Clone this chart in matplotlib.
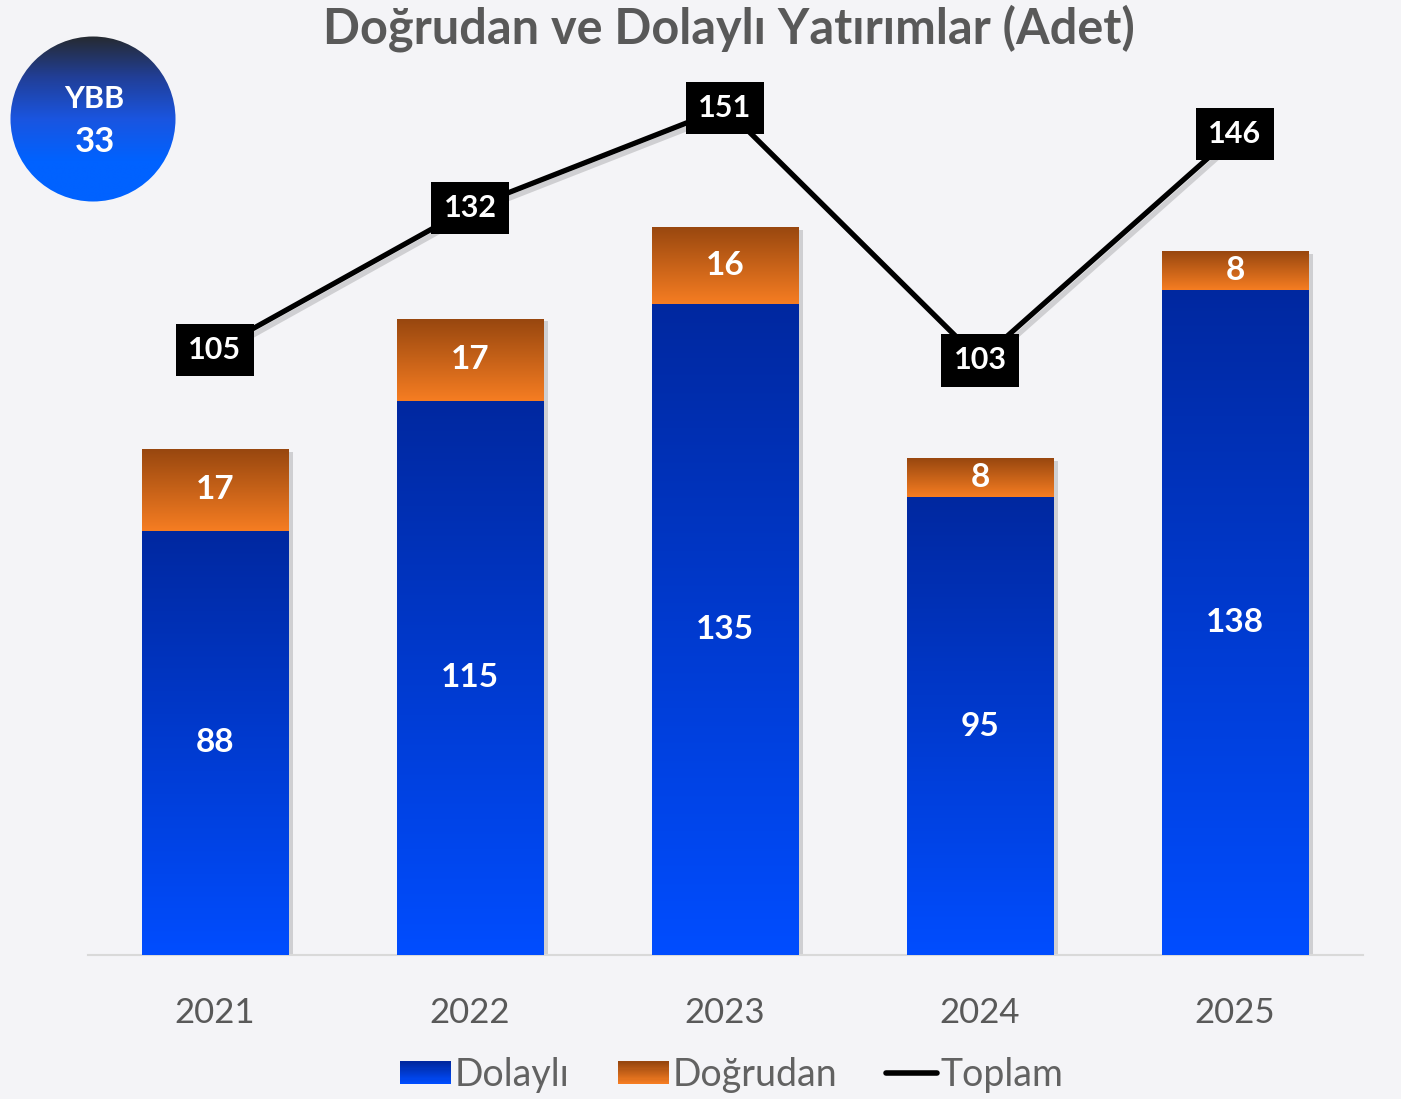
import numpy as np
import matplotlib
matplotlib.use("Agg")
import matplotlib.pyplot as plt
from matplotlib.colors import LinearSegmentedColormap, to_rgb
from matplotlib.patches import Rectangle, Circle
from matplotlib.lines import Line2D
from matplotlib.legend_handler import HandlerBase
import matplotlib.patheffects as pe

years = ["2021", "2022", "2023", "2024", "2025"]
dolayli = [88, 115, 135, 95, 138]
dogrudan = [17, 17, 16, 8, 8]
toplam = [105, 132, 151, 103, 146]
ybb_value = 33

title = "Doğrudan ve Dolaylı Yatırımlar (Adet)"
BG = "#f4f4f7"
GRAY = "#595959"
BLUE_TOP, BLUE_BOT = "#0028a0", "#004dff"
ORG_TOP, ORG_BOT = "#98470f", "#f67d22"
FONT = ["Lato", "DejaVu Sans"]
plt.rcParams["font.family"] = FONT

W, H = 1401, 1099
fig = plt.figure(figsize=(W / 100, H / 100), dpi=100, facecolor=BG)

ax = fig.add_axes([87.5 / W, (H - 955) / H, 1275 / W, 915 / H])
ax.set_facecolor("none")
ax2 = ax.twinx()

x = np.arange(len(years))
bw = 0.576
shadow = [pe.SimplePatchShadow(offset=(3, -2), shadow_rgbFace="#000000", alpha=0.15), pe.Normal()]
b1 = ax.bar(x, dolayli, bw, color="none", zorder=2, path_effects=shadow)
b2 = ax.bar(x, dogrudan, bw, bottom=dolayli, color="none", zorder=2, path_effects=shadow)

grad = np.linspace(0, 1, 256).reshape(-1, 1)
cm_blue = LinearSegmentedColormap.from_list("b", [BLUE_TOP, BLUE_BOT])
cm_org = LinearSegmentedColormap.from_list("o", [ORG_TOP, ORG_BOT])
for bars, cm in ((b1, cm_blue), (b2, cm_org)):
    for r in bars:
        x0, y0, w, h = r.get_x(), r.get_y(), r.get_width(), r.get_height()
        im = ax.imshow(grad, extent=[x0, x0 + w, y0, y0 + h], aspect="auto",
                       cmap=cm, zorder=3, interpolation="bilinear")
        im.set_clip_path(r)

ax.set_xlim(-0.5, len(years) - 0.5)
ax.set_ylim(0, 189.8)
ax.set_aspect("auto")

for i in x:
    ax.text(i, dolayli[i] / 2, str(dolayli[i]), ha="center", va="center",
            color="white", fontsize=24, fontweight="bold", zorder=5)
    ax.text(i, dolayli[i] + dogrudan[i] / 2, str(dogrudan[i]), ha="center", va="center",
            color="white", fontsize=24, fontweight="bold", zorder=5)

line_shadow = [pe.SimpleLineShadow(offset=(3, -3), shadow_color="black", alpha=0.15), pe.Normal()]
ax2.plot(x, toplam, color="black", lw=3.8, zorder=4, path_effects=line_shadow, solid_capstyle="butt")
ax2.set_ylim(-10.08, 163.9)
for i in x:
    ax2.text(i, toplam[i], str(toplam[i]), ha="center", va="center", color="white",
             fontsize=22, fontweight="bold", zorder=6,
             bbox=dict(boxstyle="square,pad=0.4", fc="black", ec="none"))

for a in (ax, ax2):
    for s in a.spines.values():
        s.set_visible(False)
    a.set_yticks([])
ax.spines["bottom"].set_visible(True)
ax.spines["bottom"].set_color("#d9d9d9")
ax.spines["bottom"].set_linewidth(1.5)
ax.set_xticks(x)
ax.set_xticklabels(years, fontsize=25, color=GRAY)
ax.tick_params(axis="x", length=0, pad=30)

fig.text(729 / W, 1 - 28 / H, title, ha="center", va="center", fontsize=35,
         fontweight="bold", color=GRAY)

# YBB circle badge
cax = fig.add_axes([10 / W, (H - 202) / H, 166 / W, 166 / H])
cax.set_xlim(0, 1); cax.set_ylim(0, 1); cax.axis("off")
cax.set_facecolor("none")
cm_c = LinearSegmentedColormap.from_list("c", ["#262a30", "#213f98", "#1a55e0", "#0062ff", "#0062ff"])
cim = cax.imshow(grad, extent=[0, 1, 0, 1], aspect="auto", cmap=cm_c, interpolation="bilinear")
circ = Circle((0.5, 0.5), 0.497, transform=cax.transData, fc="none", ec="none")
cax.add_patch(circ)
cim.set_clip_path(circ)
cax.text(0.51, 0.62, "YBB", ha="center", va="center", color="white", fontsize=22, fontweight="bold")
cax.text(0.51, 0.36, str(ybb_value), ha="center", va="center", color="white", fontsize=25, fontweight="bold")


class GradHandler(HandlerBase):
    def __init__(self, top, bot, n=20):
        super().__init__()
        self.top, self.bot, self.n = np.array(to_rgb(top)), np.array(to_rgb(bot)), n

    def create_artists(self, legend, orig_handle, xdescent, ydescent, width, height, fontsize, trans):
        arts = []
        hh = height * 0.85
        y0 = -ydescent - (hh - height) / 2
        for k in range(self.n):
            t = k / (self.n - 1)
            c = self.bot * (1 - t) + self.top * t
            arts.append(Rectangle((-xdescent, y0 + hh * k / self.n), width, hh / self.n + 0.3,
                                  fc=c, ec="none", transform=trans))
        return arts


h_blue = Rectangle((0, 0), 1, 1)
h_org = Rectangle((0, 0), 1, 1, label="o")
h_line = Line2D([], [], color="black", lw=4, solid_capstyle="round")
leg = fig.legend([h_blue, h_org, h_line], ["Dolaylı", "Doğrudan", "Toplam"],
                 handler_map={h_blue: GradHandler(BLUE_TOP, BLUE_BOT),
                              h_org: GradHandler(ORG_TOP, ORG_BOT)},
                 loc="center", bbox_to_anchor=(732 / W, 1 - 1075 / H), ncol=3, frameon=False,
                 prop={"size": 27},
                 handlelength=1.35, handletextpad=0.1, columnspacing=1.3)
for t in leg.get_texts():
    t.set_color("#626262")

fig.savefig("out.png", dpi=100, facecolor=BG)
